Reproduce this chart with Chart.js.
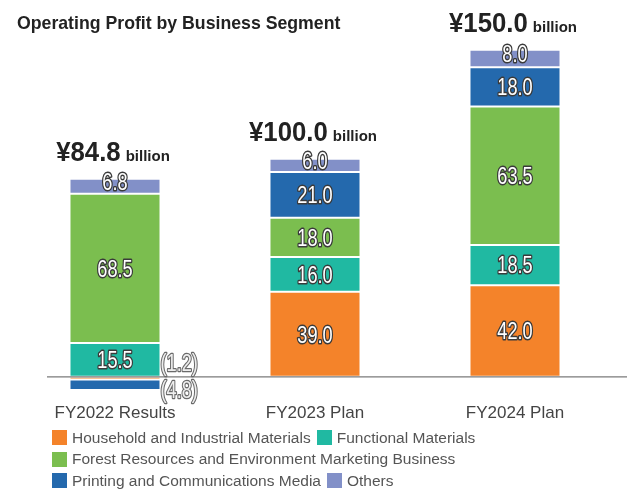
<!DOCTYPE html>
<html>
<head>
<meta charset="utf-8">
<script src="https://cdn.jsdelivr.net/npm/chart.js@4.4.1/dist/chart.umd.min.js"></script>
<style>
  html, body { margin: 0; padding: 0; background: #fff; }
  #wrap { position: relative; width: 627px; height: 493px; overflow: hidden; }
  #c { position: absolute; left: 0; top: 0; }
  #title { position: absolute; left: 17px; top: 14px; font: bold 17.7px "Liberation Sans", Arial, sans-serif; line-height: 18px; color: #222; white-space: nowrap; }
  #legend { position: absolute; left: 52px; top: 430px; width: 560px; display: flex; flex-wrap: wrap; row-gap: 6.5px; column-gap: 6px; font: 15.5px "Liberation Sans", Arial, sans-serif; color: #555; }
  .item { display: flex; align-items: center; height: 15px; white-space: nowrap; }
  .sw { width: 15px; height: 15px; margin-right: 5px; }
</style>
</head>
<body>
<div id="wrap">
  <canvas id="c" width="627" height="493"></canvas>
  <div id="title">Operating Profit by Business Segment</div>
  <div id="legend"></div>
</div>
<script>
const categories = ['FY2022 Results', 'FY2023 Plan', 'FY2024 Plan'];
const seriesNames = ['Household and Industrial Materials', 'Functional Materials', 'Forest Resources and Environment Marketing Business', 'Printing and Communications Media', 'Others'];
const seriesColors = ['#F4832A', '#20B9A2', '#7BBE4F', '#2469AD', '#8290C8'];
const household = [-1.2, 39.0, 42.0];
const functional = [15.5, 16.0, 18.5];
const forest = [68.5, 18.0, 63.5];
const printing = [-4.8, 21.0, 18.0];
const others = [6.8, 6.0, 8.0];
const totals = [84.8, 100.0, 150.0];

const seriesValues = [household, functional, forest, printing, others];

const FONT = '"Liberation Sans", Arial, sans-serif';

function drawText(ctx, text, x, y, font, fill, stroke, lw, align, sx) {
  ctx.save();
  ctx.translate(x, y);
  ctx.scale(sx || 1, 1);
  ctx.font = font;
  ctx.textAlign = align;
  ctx.textBaseline = 'alphabetic';
  ctx.lineJoin = 'round';
  if (stroke) {
    ctx.lineWidth = lw;
    ctx.strokeStyle = stroke;
    ctx.strokeText(text, 0, 0);
  }
  ctx.fillStyle = fill;
  ctx.fillText(text, 0, 0);
  ctx.restore();
}

const labelPlugin = {
  id: 'segLabels',
  afterDatasetsDraw(chart) {
    const ctx = chart.ctx;
    const yScale = chart.scales.y;
    const zeroPx = yScale.getPixelForValue(0);
    // zero line
    ctx.save();
    ctx.strokeStyle = '#7a7a7a';
    ctx.lineWidth = 1.3;
    ctx.beginPath();
    ctx.moveTo(chart.chartArea.left + 32, zeroPx);
    ctx.lineTo(chart.width, zeroPx);
    ctx.stroke();
    ctx.restore();

    const fs = 23;
    const sxSeg = 0.79;
    const lastDs = chart.data.datasets.length - 1;
    chart.data.labels.forEach((lab, i) => {
      let negCount = 0;
      chart.data.datasets.forEach((ds, d) => {
        const el = chart.getDatasetMeta(d).data[i];
        const v = ds.data[i];
        const txt = Math.abs(v).toFixed(1);
        if (v >= 0) {
          let cy = (el.y + el.base) / 2;
          if (d === lastDs) cy -= 5;
          drawText(ctx, txt, el.x, cy + 0.358 * fs, fs + 'px ' + FONT, '#ffffff', '#3a3a3a', 3, 'center', sxSeg);
        } else {
          const xr = el.x + el.width / 2;
          let cy;
          if (negCount === 0) cy = zeroPx - 14;
          else cy = (el.y + el.base) / 2 + 5;
          negCount++;
          drawText(ctx, '(' + txt + ')', xr, cy + 0.358 * fs, fs + 'px ' + FONT, '#eeeeee', '#6a6a6a', 2.6, 'left', sxSeg);
        }
      });
      // total label
      const top = chart.getDatasetMeta(lastDs).data[i];
      const base = top.y - 17.5;
      const big = '¥' + totals[i].toFixed(1);
      const small = 'billion';
      const bigFont = 'bold 28px ' + FONT;
      const smallFont = 'bold 15px ' + FONT;
      const sxBig = 0.92, sxSmall = 1.0;
      ctx.save();
      ctx.font = bigFont; const wb = ctx.measureText(big).width * sxBig;
      ctx.font = smallFont; const ws = ctx.measureText(small).width * sxSmall;
      ctx.restore();
      const gap = 5;
      const x0 = top.x - 2 - (wb + gap + ws) / 2;
      drawText(ctx, big, x0, base, bigFont, '#222', null, 0, 'left', sxBig);
      drawText(ctx, small, x0 + wb + gap, base, smallFont, '#222', null, 0, 'left', sxSmall);
    });
  }
};

const datasets = seriesNames.map((name, k) => ({
  label: name,
  data: seriesValues[k],
  backgroundColor: seriesColors[k],
  borderColor: '#ffffff',
  borderWidth: 1,
  borderSkipped: false,
  categoryPercentage: 0.455,
  barPercentage: 1
}));

new Chart(document.getElementById('c'), {
  type: 'bar',
  data: { labels: categories, datasets },
  options: {
    responsive: false,
    animation: false,
    events: [],
    layout: { padding: { left: 15, right: 12, top: 28, bottom: 65.2 } },
    plugins: { legend: { display: false }, tooltip: { enabled: false }, title: { display: false } },
    scales: {
      x: {
        stacked: true,
        grid: { display: false, drawTicks: false },
        border: { display: false },
        ticks: { color: '#444', font: { size: 17, family: FONT }, padding: 4.4 }
      },
      y: { stacked: true, display: false, min: -10, max: 160 }
    }
  },
  plugins: [labelPlugin]
});

const legend = document.getElementById('legend');
seriesNames.forEach((n, k) => {
  const it = document.createElement('div');
  it.className = 'item';
  const sw = document.createElement('span');
  sw.className = 'sw';
  sw.style.background = seriesColors[k];
  const t = document.createElement('span');
  t.textContent = n;
  it.appendChild(sw); it.appendChild(t);
  legend.appendChild(it);
});
</script>
</body>
</html>
